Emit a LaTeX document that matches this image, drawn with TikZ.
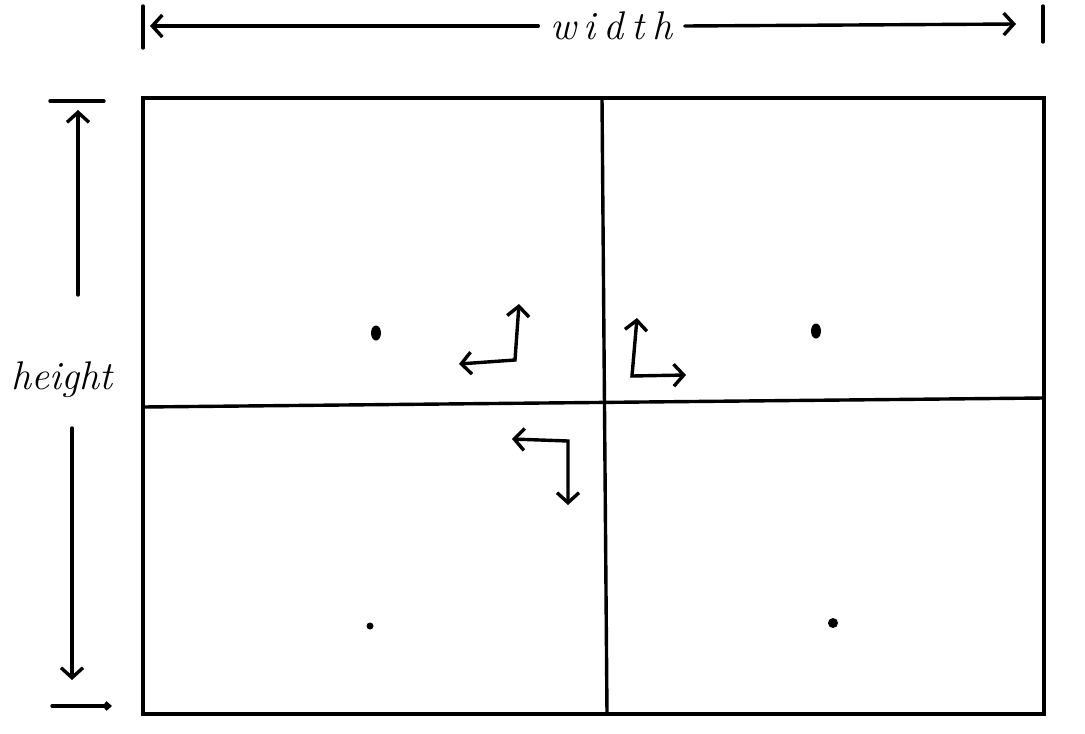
\documentclass[tikz,border=0pt]{standalone}
\usepackage{fontspec}
\usetikzlibrary{arrows.meta,shapes.geometric}

\begin{document}
\begin{tikzpicture}[x=1pt, y=-1pt, line width=3.4pt, line cap=round,
		>={Straight Barb[length=10pt,width=22pt,line width=3.4pt]},
		dot/.style={ellipse, fill, inner sep=0pt, minimum width=10pt, minimum height=15pt},
		smalldot/.style={circle, fill, inner sep=0pt, minimum size=7pt},
		dimlabel/.style={inner sep=0pt, align=center, font=\fontsize{40}{44}\selectfont\itshape}]
			\useasboundingbox (0,0) rectangle (1085,734);
			% frame and dividers
			\coordinate (topleft)  at (143,98);
			\coordinate (botright) at (1044,714);
			\coordinate (vtop)     at (602,98);
			\coordinate (vbot)     at (607,714);
			\coordinate (hleft)    at (143,407);
			\coordinate (hright)   at (1044,398);
			\draw (topleft) rectangle (botright);
			\draw (vtop) -- (vbot);
			\draw (hleft) -- (hright);
			% centres of the four cells
			\node[dot]      (c1) at (376,333) {};
			\node[dot]      (c2) at (816,331) {};
			\node[smalldot] (c3) at (370,626) {};
			\node[smalldot, minimum size=10pt] (c4) at (833,623) {};
			% width
			\node[dimlabel, text width=143pt] (wlabel) at (611.5,26)
				{\fontspec{Latin Modern Roman}[LetterSpace=20]\itshape\fontsize{40}{44}\selectfont width};
			\coordinate (wleft)   at (150,26);
			\coordinate (wright)  at (1016,24);
			\coordinate (wtick1a) at (143,6);
			\coordinate (wtick1b) at (143,48);
			\coordinate (wtick2a) at (1043,6);
			\coordinate (wtick2b) at (1043,42);
			\draw[->] (wlabel.west) -- (wleft);
			\draw[->] (wlabel.east) -- (wright);
			\draw (wtick1a) -- (wtick1b);
			\draw (wtick2a) -- (wtick2b);
			% height
			\node[dimlabel] (hlabel) at (62,380) {height};
			\coordinate (hupa)    at (78,295);
			\coordinate (hupb)    at (78,110);
			\coordinate (hdowna)  at (72,428);
			\coordinate (hdownb)  at (72,680);
			\coordinate (htick1a) at (50,101);
			\coordinate (htick1b) at (104,101);
			\coordinate (htick2a) at (52,706);
			\coordinate (htick2b) at (112,706);
			\draw[->] (hupa) -- (hupb);
			\draw[->] (hdowna) -- (hdownb);
			\draw (htick1a) -- (htick1b);
			\draw[-{Straight Barb[length=4pt,width=7pt]}] (htick2a) -- (htick2b);
			% axes at the middle
			\coordinate (acorner) at (515,360);
			\coordinate (aup)     at (519,304);
			\coordinate (aleft)   at (459,364);
			\coordinate (bcorner) at (632,376);
			\coordinate (bup)     at (637,318);
			\coordinate (bright)  at (686,375);
			\coordinate (ccorner) at (568,441);
			\coordinate (cleft)   at (512,439);
			\coordinate (cdown)   at (568,505);
			\draw[<->] (aleft) -- (acorner) -- (aup);
			\draw[<->] (bup) -- (bcorner) -- (bright);
			\draw[<->] (cleft) -- (ccorner) -- (cdown);
\end{tikzpicture}
\end{document}
